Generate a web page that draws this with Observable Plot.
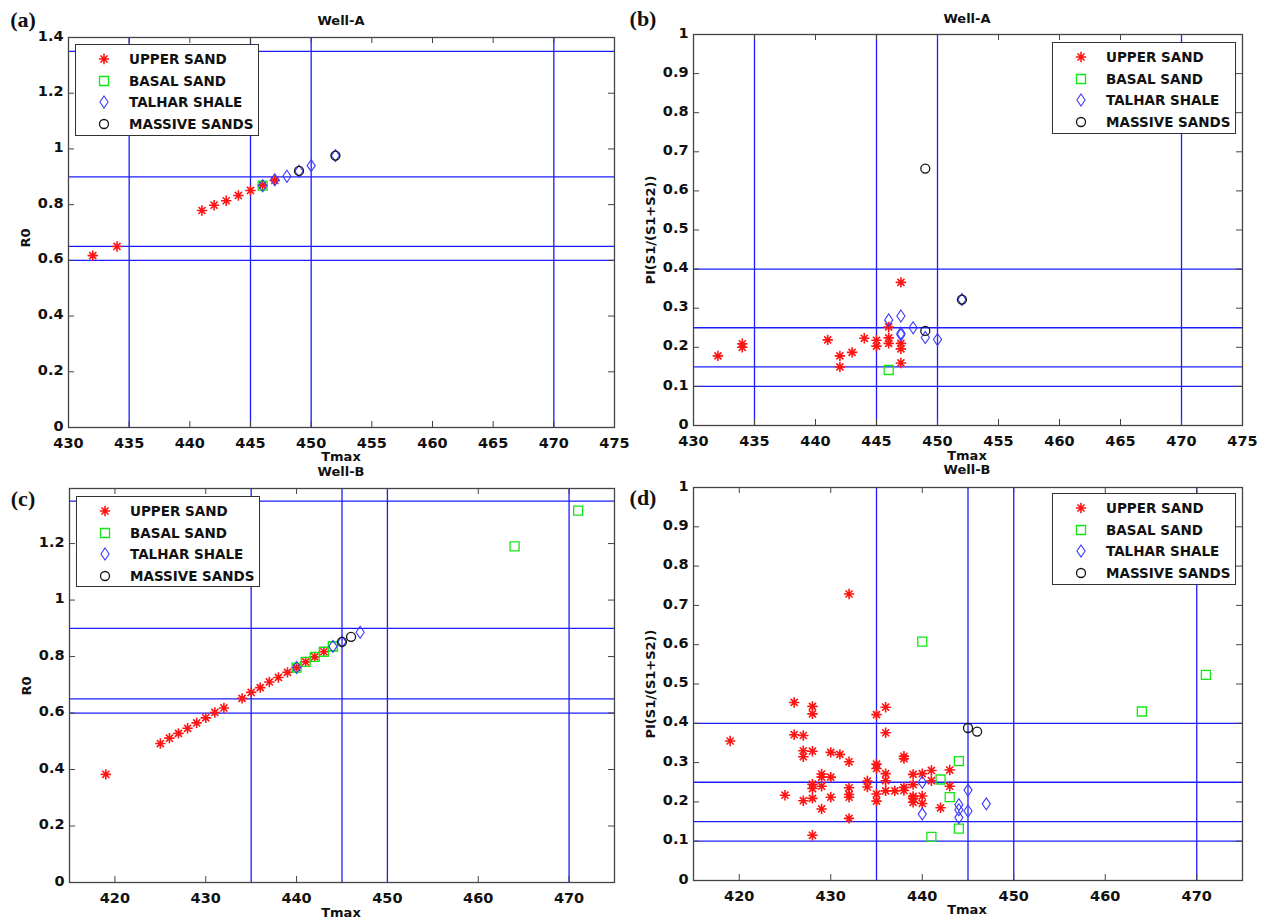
<!DOCTYPE html>
<html>
<head>
<meta charset="utf-8">
<script src="https://cdn.jsdelivr.net/npm/d3@7"></script>
<script src="https://cdn.jsdelivr.net/npm/@observablehq/plot@0.6"></script>
<style>
  body { margin: 0; background: #fff; }
  #fig { position: relative; width: 1268px; height: 919px; background: #fff; overflow: hidden;
         font-family: "DejaVu Sans", "Liberation Sans", sans-serif; color: #111; }
  .panel { position: absolute; }
  .tag { position: absolute; font-family: "Liberation Serif", "Times New Roman", serif; font-weight: bold;
         font-size: 22px; transform: translate(-50%, -50%); white-space: nowrap; }
  .lab { position: absolute; font-weight: bold; font-size: 13px; transform: translate(-50%, -50%); white-space: nowrap; }
  .ylab { position: absolute; font-weight: bold; font-size: 13px; transform: translate(-50%, -50%) rotate(-90deg); white-space: nowrap; }
  .legend { position: absolute; background: #fff; border: 1.5px solid #333; box-sizing: border-box; }
  .legend .name { position: absolute; font-weight: bold; font-size: 13.5px; white-space: nowrap; transform: translateY(-50%); }
  .legend svg { position: absolute; overflow: visible; }
</style>
</head>
<body>
<div id="fig"></div>
<script>
// Series shown in every panel, in legend order
const series = ["UPPER SAND", "BASAL SAND", "TALHAR SHALE", "MASSIVE SANDS"];
const seriesColors = ["#ff1414", "#12e812", "#3a3aff", "#151515"];

// Reference (threshold) lines
const tmaxLines = [435, 445, 450, 470];
const r0Lines = [0.6, 0.65, 0.9, 1.35];
const piLines = [0.1, 0.15, 0.25, 0.4];

// Tick values
const tmaxTicksA = [430, 435, 440, 445, 450, 455, 460, 465, 470, 475];
const tmaxTicksB = [420, 430, 440, 450, 460, 470];
const r0TicksA = [0, 0.2, 0.4, 0.6, 0.8, 1, 1.2, 1.4];
const r0TicksB = [0, 0.2, 0.4, 0.6, 0.8, 1, 1.2];
const piTicks = [0, 0.1, 0.2, 0.3, 0.4, 0.5, 0.6, 0.7, 0.8, 0.9, 1];

// Well-A: R0 vs Tmax  ([Tmax, R0])
const wellA_r0_upper = [[432, 0.617], [434, 0.650], [441, 0.779], [442, 0.798], [443, 0.814],
  [444, 0.833], [445, 0.851], [446, 0.870], [447, 0.887]];
const wellA_r0_basal = [[446, 0.868]];
const wellA_r0_talhar = [[446, 0.868], [447, 0.889], [448, 0.902], [449, 0.920], [450, 0.940], [452, 0.976]];
const wellA_r0_massive = [[449, 0.921], [452, 0.976]];

// Well-A: PI vs Tmax  ([Tmax, PI])
const wellA_pi_upper = [[432, 0.178], [434, 0.209], [434, 0.200], [441, 0.219], [442, 0.178], [442, 0.150],
  [443, 0.187], [444, 0.223], [445, 0.218], [445, 0.203], [446, 0.252], [446, 0.224], [446, 0.210],
  [447, 0.366], [447, 0.210], [447, 0.196], [447, 0.160]];
const wellA_pi_basal = [[446, 0.142]];
const wellA_pi_talhar = [[446, 0.270], [447, 0.280], [447, 0.236], [447, 0.232], [448, 0.250],
  [449, 0.225], [450, 0.220], [452, 0.322]];
const wellA_pi_massive = [[449, 0.657], [449, 0.242], [452, 0.322]];

// Well-B: R0 vs Tmax
const wellB_r0_upper = [[419, 0.383], [425, 0.492], [426, 0.511], [427, 0.528], [428, 0.546], [429, 0.565],
  [430, 0.583], [431, 0.602], [432, 0.618], [434, 0.652], [435, 0.673], [436, 0.690], [437, 0.710],
  [438, 0.726], [439, 0.744], [440, 0.761], [441, 0.781], [442, 0.799], [443, 0.817]];
const wellB_r0_basal = [[440, 0.761], [441, 0.781], [442, 0.799], [443, 0.817], [444, 0.836], [444, 0.836],
  [464, 1.190], [471, 1.317]];
const wellB_r0_talhar = [[440, 0.761], [444, 0.836], [445, 0.852], [447, 0.886]];
const wellB_r0_massive = [[445, 0.852], [446, 0.870]];

// Well-B: PI vs Tmax
const wellB_pi_upper = [[419, 0.355], [425, 0.217],
  [426, 0.453], [426, 0.371],
  [427, 0.369], [427, 0.330], [427, 0.315], [427, 0.203],
  [428, 0.443], [428, 0.424], [428, 0.329], [428, 0.245], [428, 0.234], [428, 0.209], [428, 0.115],
  [429, 0.271], [429, 0.263], [429, 0.240], [429, 0.182],
  [430, 0.326], [430, 0.263], [430, 0.212],
  [431, 0.321],
  [432, 0.729], [432, 0.302], [432, 0.236], [432, 0.219], [432, 0.212], [432, 0.158],
  [434, 0.253], [434, 0.238],
  [435, 0.422], [435, 0.296], [435, 0.285], [435, 0.220], [435, 0.202],
  [436, 0.441], [436, 0.376], [436, 0.272], [436, 0.254], [436, 0.228],
  [437, 0.228],
  [438, 0.316], [438, 0.310], [438, 0.237], [438, 0.229],
  [439, 0.270], [439, 0.244], [439, 0.214], [439, 0.209], [439, 0.199],
  [440, 0.272], [440, 0.215], [440, 0.196],
  [441, 0.280], [441, 0.254],
  [442, 0.185],
  [443, 0.281], [443, 0.240]];
const wellB_pi_basal = [[440, 0.608], [441, 0.111], [442, 0.257], [443, 0.212], [444, 0.304], [444, 0.132],
  [464, 0.430], [471, 0.523]];
const wellB_pi_talhar = [[440, 0.250], [440, 0.169], [444, 0.193], [444, 0.180], [444, 0.160],
  [445, 0.230], [445, 0.177], [447, 0.195]];
const wellB_pi_massive = [[445, 0.388], [446, 0.379]];

// Marker shapes (size is the area Plot passes in; radius = sqrt(size / PI))
const starSym = { draw(ctx, size) {
  const r = Math.sqrt(size / Math.PI), d = r * 0.68;
  ctx.moveTo(-r, 0); ctx.lineTo(r, 0); ctx.moveTo(0, -r); ctx.lineTo(0, r);
  ctx.moveTo(-d, -d); ctx.lineTo(d, d); ctx.moveTo(-d, d); ctx.lineTo(d, -d);
}};
const squareSym = { draw(ctx, size) {
  const r = Math.sqrt(size / Math.PI);
  ctx.rect(-r, -r, 2 * r, 2 * r);
}};
const diamondSym = { draw(ctx, size) {
  const r = Math.sqrt(size / Math.PI), w = r * 0.68;
  ctx.moveTo(0, -r); ctx.lineTo(w, 0); ctx.lineTo(0, r); ctx.lineTo(-w, 0); ctx.closePath();
}};
const circleSym = { draw(ctx, size) {
  const r = Math.sqrt(size / Math.PI);
  ctx.moveTo(r, 0); ctx.arc(0, 0, r, 0, 2 * Math.PI);
}};
const symbols = [starSym, squareSym, diamondSym, circleSym];
const radii = [5.2, 4.5, 6, 4.5];
const widths = [1.6, 1.3, 1.1, 1.3];

const lineBlue = "#1c1cff";
const axisGray = "#444";
const fig = document.getElementById("fig");

function addText(cls, text, x, y) {
  const el = document.createElement("div");
  el.className = cls;
  el.textContent = text;
  el.style.left = x + "px";
  el.style.top = y + "px";
  fig.appendChild(el);
}

function panel(cfg) {
  const {left, top, width, height, ml, mr, mt, mb, xDomain, yDomain, xTicks, yTicks, hLines, sets} = cfg;
  const fw = width - ml - mr, fh = height - mt - mb;
  const tick = 6;
  const marks = [
    Plot.ruleX(tmaxLines, {x: d => d, stroke: lineBlue, strokeWidth: 1.3}),
    Plot.ruleY(hLines, {y: d => d, stroke: lineBlue, strokeWidth: 1.3}),
    // inward tick marks on all four sides of the box
    Plot.tickX(xTicks, {x: d => d, insetTop: fh - tick, stroke: axisGray}),
    Plot.tickX(xTicks, {x: d => d, insetBottom: fh - tick, stroke: axisGray}),
    Plot.tickY(yTicks, {y: d => d, insetRight: fw - tick, stroke: axisGray}),
    Plot.tickY(yTicks, {y: d => d, insetLeft: fw - tick, stroke: axisGray}),
    Plot.axisX(xTicks, {tickSize: 0, tickPadding: 10, label: null, tickFormat: d => String(d)}),
    Plot.axisY(yTicks, {tickSize: 0, tickPadding: 5, dy: -1.5, label: null, tickFormat: d => String(d)})
  ];
  sets.forEach((data, i) => {
    marks.push(Plot.dot(data, {
      x: d => d[0], y: d => d[1], symbol: symbols[i], r: radii[i],
      stroke: seriesColors[i], fill: "none", strokeWidth: widths[i]
    }));
  });
  marks.push(Plot.frame({stroke: axisGray, strokeWidth: 1.3}));
  const svg = Plot.plot({
    width, height, marginLeft: ml, marginRight: mr, marginTop: mt, marginBottom: mb,
    x: {domain: xDomain}, y: {domain: yDomain},
    style: {fontFamily: "DejaVu Sans, sans-serif", fontSize: "14.5px", fontWeight: "bold", color: "#111", background: "transparent", overflow: "visible"},
    marks
  });
  svg.classList.add("panel");
  svg.style.left = left + "px";
  svg.style.top = top + "px";
  fig.appendChild(svg);
}

function legend(x, y, w, h) {
  const box = document.createElement("div");
  box.className = "legend";
  Object.assign(box.style, {left: x + "px", top: y + "px", width: w + "px", height: h + "px"});
  series.forEach((name, i) => {
    const cy = 14 + i * 21.7;
    const svg = d3.create("svg").attr("width", 1).attr("height", 1)
      .style("left", "28px").style("top", cy + "px");
    const p = d3.path();
    symbols[i].draw(p, radii[i] * radii[i] * Math.PI);
    svg.append("path").attr("d", p.toString()).attr("fill", "none")
      .attr("stroke", seriesColors[i]).attr("stroke-width", widths[i]);
    box.appendChild(svg.node());
    const t = document.createElement("div");
    t.className = "name";
    t.textContent = name;
    t.style.left = "53px";
    t.style.top = cy + "px";
    box.appendChild(t);
  });
  fig.appendChild(box);
}

// (a) Well-A R0
panel({left: 0, top: 0, width: 630, height: 455, ml: 68, mr: 16, mt: 37, mb: 28,
  xDomain: [430, 475], yDomain: [0, 1.4], xTicks: tmaxTicksA, yTicks: r0TicksA, hLines: r0Lines,
  sets: [wellA_r0_upper, wellA_r0_basal, wellA_r0_talhar, wellA_r0_massive]});
// (b) Well-A PI
panel({left: 630, top: 0, width: 638, height: 455, ml: 63, mr: 26, mt: 34, mb: 30,
  xDomain: [430, 475], yDomain: [0, 1], xTicks: tmaxTicksA, yTicks: piTicks, hLines: piLines,
  sets: [wellA_pi_upper, wellA_pi_basal, wellA_pi_talhar, wellA_pi_massive]});
// (c) Well-B R0
panel({left: 0, top: 460, width: 630, height: 459, ml: 69, mr: 16, mt: 28, mb: 37,
  xDomain: [415, 475], yDomain: [0, 1.395], xTicks: tmaxTicksB, yTicks: r0TicksB, hLines: r0Lines,
  sets: [wellB_r0_upper, wellB_r0_basal, wellB_r0_talhar, wellB_r0_massive]});
// (d) Well-B PI
panel({left: 630, top: 460, width: 638, height: 459, ml: 63, mr: 26, mt: 27, mb: 39,
  xDomain: [415, 475], yDomain: [0, 1], xTicks: tmaxTicksB, yTicks: piTicks, hLines: piLines,
  sets: [wellB_pi_upper, wellB_pi_basal, wellB_pi_talhar, wellB_pi_massive]});

legend(75, 44, 184, 92);
legend(1052, 42, 184, 92);
legend(76, 496, 184, 91);
legend(1052, 493, 184, 92);

// Panel tags, titles and axis labels
addText("tag", "(a)", 23, 20);
addText("tag", "(b)", 643, 19);
addText("tag", "(c)", 23, 499);
addText("tag", "(d)", 643, 498);
addText("lab", "Well-A", 341, 20);
addText("lab", "Well-A", 967, 18);
addText("lab", "Well-B", 341, 471);
addText("lab", "Well-B", 967, 469);
addText("lab", "Tmax", 341, 456);
addText("lab", "Tmax", 967, 455);
addText("lab", "Tmax", 341, 912);
addText("lab", "Tmax", 967, 909);
addText("ylab", "R0", 25, 238);
addText("ylab", "R0", 26, 686);
addText("ylab", "PI(S1/(S1+S2))", 650, 230);
addText("ylab", "PI(S1/(S1+S2))", 650, 684);
</script>
</body>
</html>
